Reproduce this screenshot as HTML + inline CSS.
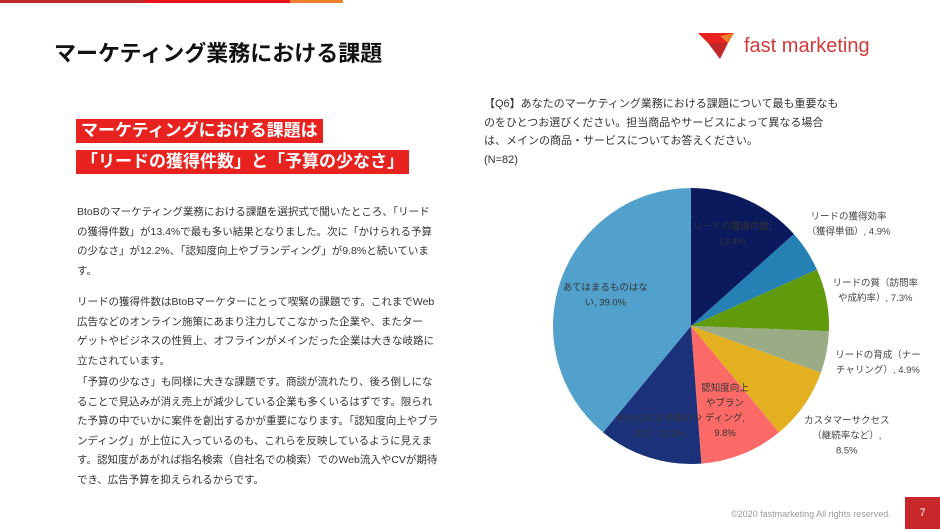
<!DOCTYPE html>
<html><head><meta charset="utf-8"><style>
body{margin:0;width:940px;height:529px;overflow:hidden;background:#fff;font-family:"Liberation Sans","Noto Sans CJK JP",sans-serif;position:relative;color:#222}
.a{position:absolute}
.hl{background:#e8231f;color:#fff;font-size:17px;font-weight:bold;padding:1px 5px;line-height:22px}
.body{left:77px;font-size:10.5px;line-height:19.5px;color:#333;white-space:nowrap}
</style></head><body>
<div class="a" style="left:0;top:0;width:145px;height:3px;background:#c0282a"></div>
<div class="a" style="left:145px;top:0;width:145px;height:3px;background:#e8141a"></div>
<div class="a" style="left:290px;top:0;width:53px;height:3px;background:#f08030"></div>
<div class="a" style="left:54px;top:36px;font-size:22px;font-weight:bold;color:#111">マーケティング業務における課題</div>
<div class="a" style="left:698px;top:33px;width:200px;height:30px">
<svg width="40" height="30" style="position:absolute;left:0;top:0"><polygon points="0,0 36,0 30,10 10,10" fill="#e8231f"/><polygon points="10,10 30,10 22,26" fill="#c0282a"/><polygon points="22,3 36,0 30,10" fill="#f08030"/></svg>
<span class="a" style="left:46px;top:2px;font-size:20px;color:#d23a3a">fast marketing</span></div>
<div class="a hl" style="left:76px;top:119px">マーケティングにおける課題は</div>
<div class="a hl" style="left:76px;top:150px">「リードの獲得件数」と「予算の少なさ」</div>
<div class="a body" style="top:203px">BtoBのマーケティング業務における課題を選択式で聞いたところ、「リード<br>の獲得件数」が13.4%で最も多い結果となりました。次に「かけられる予算<br>の少なさ」が12.2%、「認知度向上やブランディング」が9.8%と続いていま<br>す。</div>
<div class="a body" style="top:293px">リードの獲得件数はBtoBマーケターにとって喫緊の課題です。これまでWeb<br>広告などのオンライン施策にあまり注力してこなかった企業や、またター<br>ゲットやビジネスの性質上、オフラインがメインだった企業は大きな岐路に<br>立たされています。</div>
<div class="a body" style="top:373px">「予算の少なさ」も同様に大きな課題です。商談が流れたり、後ろ倒しにな<br>ることで見込みが消え売上が減少している企業も多くいるはずです。限られ<br>た予算の中でいかに案件を創出するかが重要になります。「認知度向上やブラ<br>ンディング」が上位に入っているのも、これらを反映しているように見えま<br>す。認知度があがれば指名検索（自社名での検索）でのWeb流入やCVが期待<br>でき、広告予算を抑えられるからです。</div>
<div class="a" style="left:484px;top:95px;width:360px;font-size:11px;line-height:18.5px;color:#333">【Q6】あなたのマーケティング業務における課題について最も重要なものをひとつお選びください。担当商品やサービスによって異なる場合は、メインの商品・サービスについてお答えください。<br>(N=82)</div>
<svg class="a" id="pie" style="left:0;top:0" width="940" height="529"></svg>
<div class="a" style="left:731px;top:509px;font-size:9px;color:#999">©2020 fastmarketing All rights reserved.</div>
<div class="a" style="left:905px;top:497px;width:35px;height:32px;background:#c8282a;color:#fff;font-size:11px;text-align:center;line-height:32px">7</div>
<script>
const categories=["リードの獲得件数","リードの獲得効率（獲得単価）","リードの質（訪問率や成約率）","リードの育成（ナーチャリング）","カスタマーサクセス（継続率など）","認知度向上やブランディング","かけられる予算の少なさ","あてはまるものはない"];
const values=[13.4,4.9,7.3,4.9,8.5,9.8,12.2,39.0];
const colors=["#0b1a5c","#2580b3","#619b0c","#9aab85","#e3b020","#fb6a66","#1b327a","#51a1cc"];
const labelLines=[["リードの獲得件数,","13.4%"],["リードの獲得効率","（獲得単価）, 4.9%"],["リードの質（訪問率","や成約率）, 7.3%"],["リードの育成（ナー","チャリング）, 4.9%"],["カスタマーサクセス","（継続率など）,","8.5%"],["認知度向上","やブラン","ディング,","9.8%"],["かけられる予算の少","なさ, 12.2%"],["あてはまるものはな","い, 39.0%"]];
const labelR=[0.73,1.36,1.36,1.38,1.38,0.66,0.76,0.66];
const cx=691,cy=326,R=138,NS="http://www.w3.org/2000/svg";
const svg=document.getElementById('pie');
const total=values.reduce((a,b)=>a+b,0);
function pt(a,r){return [cx+r*Math.sin(a),cy-r*Math.cos(a)];}
let ang=0;
values.forEach((v,i)=>{
  const a0=ang,a1=ang+v/total*2*Math.PI;ang=a1;
  const p0=pt(a0,R),p1=pt(a1,R),large=(a1-a0)>Math.PI?1:0;
  const path=document.createElementNS(NS,'path');
  path.setAttribute('d',`M${cx},${cy}L${p0[0]},${p0[1]}A${R},${R} 0 ${large} 1 ${p1[0]},${p1[1]}Z`);
  path.setAttribute('fill',colors[i]);
  
  
  svg.appendChild(path);
  const m=(a0+a1)/2,lp=pt(m,R*labelR[i]);
  const lines=labelLines[i];
  const t=document.createElementNS(NS,'text');
  
  
  t.setAttribute('text-anchor','middle');
  t.setAttribute('font-size','9.5');
  t.setAttribute('fill',labelR[i]>1?'#444':'#333');
  lines.forEach((l,j)=>{
    const s=document.createElementNS(NS,'tspan');
    s.setAttribute('x',lp[0]);
    s.setAttribute('y',lp[1]+(j-(lines.length-1)/2)*15+3);
    s.textContent=l;t.appendChild(s);
  });
  svg.appendChild(t);
});
</script>
</body></html>
